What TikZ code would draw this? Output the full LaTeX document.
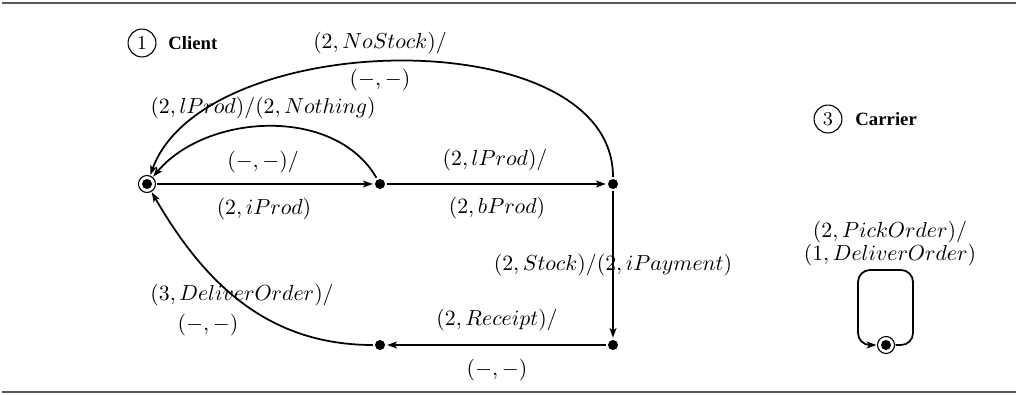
\documentclass[tikz,border=0pt]{standalone}
\usepackage{fontspec}
\newfontfamily\timesb{Liberation Serif}
\usetikzlibrary{arrows.meta}
\begin{document}
\begin{tikzpicture}[x=0.4587pt,y=-0.4587pt,
  st/.style={circle,fill,inner sep=0pt,minimum size=4.6pt,outer sep=1pt},
  ini/.style={circle,draw,line width=0.5pt,inner sep=0pt,minimum size=7.8pt,outer sep=0.5pt,
    path picture={\fill (path picture bounding box.center) circle (2.3pt);}},
  tr/.style={-{Stealth[length=4.5pt,width=3.2pt,inset=1.2pt]},line width=0.8pt},
  lbl/.style={inner sep=1pt},
  rulex/.style={line width=0.7pt,draw=black!65},
  num/.style={circle,draw,line width=0.5pt,inner sep=0pt,minimum size=12.8pt,font=\small},
  ttl/.style={font=\timesb\bfseries\fontsize{8.6}{10}\selectfont,anchor=west,inner sep=0pt}
]
\useasboundingbox (0,0) rectangle (1016,394);
% rules
\coordinate (r1a) at (2,3);
\coordinate (r1b) at (1016,3);
\coordinate (r2a) at (2,392);
\coordinate (r2b) at (1016,392);
\draw[rulex] (r1a) -- (r1b);
\draw[rulex] (r2a) -- (r2b);
% titles
\node[num] (n1) at (142,43) {1};
\node[ttl] (t1) at (168,43) {Client};
\node[num] (n3) at (828,119) {3};
\node[ttl] (t3) at (855,119) {Carrier};
% states
\node[ini] (s0) at (147,184) {};
\node[st] (s1) at (380,184) {};
\node[st] (s2) at (613,184) {};
\node[st] (s3) at (613,345) {};
\node[st] (s4) at (380,345) {};
\node[ini] (c0) at (886,345) {};
% transitions
\draw[tr] (s0) -- (s1);
\draw[tr] (s1) -- (s2);
\draw[tr] (s2) -- (s3);
\draw[tr] (s3) -- (s4);
\draw[tr] (s1) to[out=120,in=50,looseness=0.95] (s0);
\draw[tr] (s2) to[out=90,in=70,looseness=0.87] (s0);
\draw[tr] (s4) to[out=180,in=-60] (s0);
\coordinate (k1) at (913,345);
\coordinate (k2) at (913,270);
\coordinate (k3) at (858,270);
\coordinate (k4) at (858,345);
\draw[tr,rounded corners=5.5pt] (c0) -- (k1) -- (k2) -- (k3) -- (k4) -- (c0);
% labels
\node[lbl] (l1a) at (263,162) {$(-,-)/$};
\node[lbl] (l1b) at (264,209) {$(2,iProd)$};
\node[lbl] (l2) at (263,108) {$(2,lProd)/(2,Nothing)$};
\node[lbl] (l3a) at (380,43) {$(2,NoStock)/$};
\node[lbl] (l3b) at (380,80) {$(-,-)$};
\node[lbl] (l4a) at (495,160) {$(2,lProd)/$};
\node[lbl] (l4b) at (497,208) {$(2,bProd)$};
\node[lbl] (l5) at (613,265) {$(2,Stock)/(2,iPayment)$};
\node[lbl] (l6a) at (497,320) {$(2,Receipt)/$};
\node[lbl] (l6b) at (497,370) {$(-,-)$};
\node[lbl] (l7a) at (242,295) {$(3,DeliverOrder)/$};
\node[lbl] (l7b) at (208,325) {$(-,-)$};
\node[lbl] (l8a) at (890,232) {$(2,PickOrder)/$};
\node[lbl] (l8b) at (890,255) {$(1,DeliverOrder)$};
\end{tikzpicture}
\end{document}
